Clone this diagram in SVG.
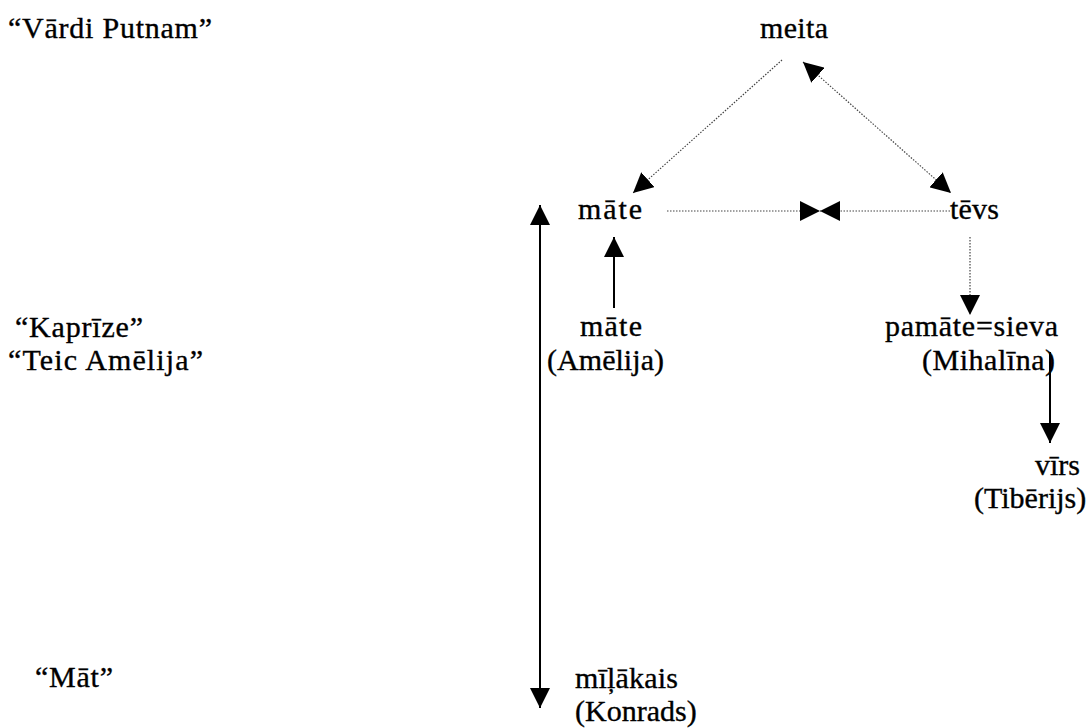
<svg xmlns="http://www.w3.org/2000/svg" width="1092" height="728" viewBox="0 0 1092 728">
  <style>
    text { font-family: "Liberation Serif", "Times New Roman", serif; font-size: 30px; fill: #000; stroke: #000; stroke-width: 0.35; }
    .dot { stroke: #444; stroke-width: 1.2; stroke-dasharray: 1.5 1.5; fill: none; }
    .solid { stroke: #000; stroke-width: 2; fill: none; }
  </style>
  <defs>
    <marker id="head" viewBox="0 0 20 20" refX="20" refY="10" markerWidth="20" markerHeight="20" markerUnits="userSpaceOnUse" orient="auto-start-reverse">
      <path d="M0,0 L20,10 L0,20 Z" fill="#000"/>
    </marker>
  </defs>

  <!-- source titles on the left -->
  <g id="titles">
    <text x="8" y="38" textLength="204" lengthAdjust="spacing">“Vārdi Putnam”</text>
    <text x="15" y="337" textLength="128" lengthAdjust="spacing">“Kaprīze”</text>
    <text x="8" y="370" textLength="195" lengthAdjust="spacing">“Teic Amēlija”</text>
    <text x="35" y="687" textLength="78" lengthAdjust="spacing">“Māt”</text>
  </g>

  <g id="node-meita"><text x="760" y="38" textLength="68" lengthAdjust="spacing">meita</text></g>
  <g id="node-mate"><text x="578" y="219" textLength="64" lengthAdjust="spacing">māte</text></g>
  <g id="node-tevs"><text x="950" y="219" textLength="49" lengthAdjust="spacing">tēvs</text></g>
  <g id="node-mate-amelija">
    <text x="580" y="336" textLength="62" lengthAdjust="spacing">māte</text>
    <text x="547" y="370" textLength="117" lengthAdjust="spacing">(Amēlija)</text>
  </g>
  <g id="node-pamate">
    <text x="885" y="336" textLength="173" lengthAdjust="spacing">pamāte=sieva</text>
    <text x="922" y="370" textLength="133" lengthAdjust="spacing">(Mihalīna)</text>
  </g>
  <g id="node-virs">
    <text x="1035" y="475" textLength="45" lengthAdjust="spacing">vīrs</text>
    <text x="974" y="508">(Tibērijs)</text>
  </g>
  <g id="node-milakais">
    <text x="575" y="688" textLength="103" lengthAdjust="spacing">mīļākais</text>
    <text x="575" y="721">(Konrads)</text>
  </g>

  <!-- connectors -->
  <g id="connectors">
    <line class="dot" x1="782" y1="60" x2="633" y2="193" marker-end="url(#head)"/>
    <line class="dot" x1="803" y1="62" x2="951" y2="193" marker-start="url(#head)" marker-end="url(#head)"/>
    <line class="dot" x1="667" y1="211" x2="820" y2="211" marker-end="url(#head)"/>
    <line class="dot" x1="950" y1="211" x2="820" y2="211" marker-end="url(#head)"/>
    <line class="dot" x1="970" y1="237" x2="970" y2="315" marker-end="url(#head)"/>
    <line class="solid" x1="540" y1="205" x2="540" y2="708" marker-start="url(#head)" marker-end="url(#head)"/>
    <line class="solid" x1="614" y1="308" x2="614" y2="237" marker-end="url(#head)"/>
    <line class="solid" x1="1050" y1="352" x2="1050" y2="443" stroke-width="1.2" marker-end="url(#head)"/>
  </g>
</svg>
